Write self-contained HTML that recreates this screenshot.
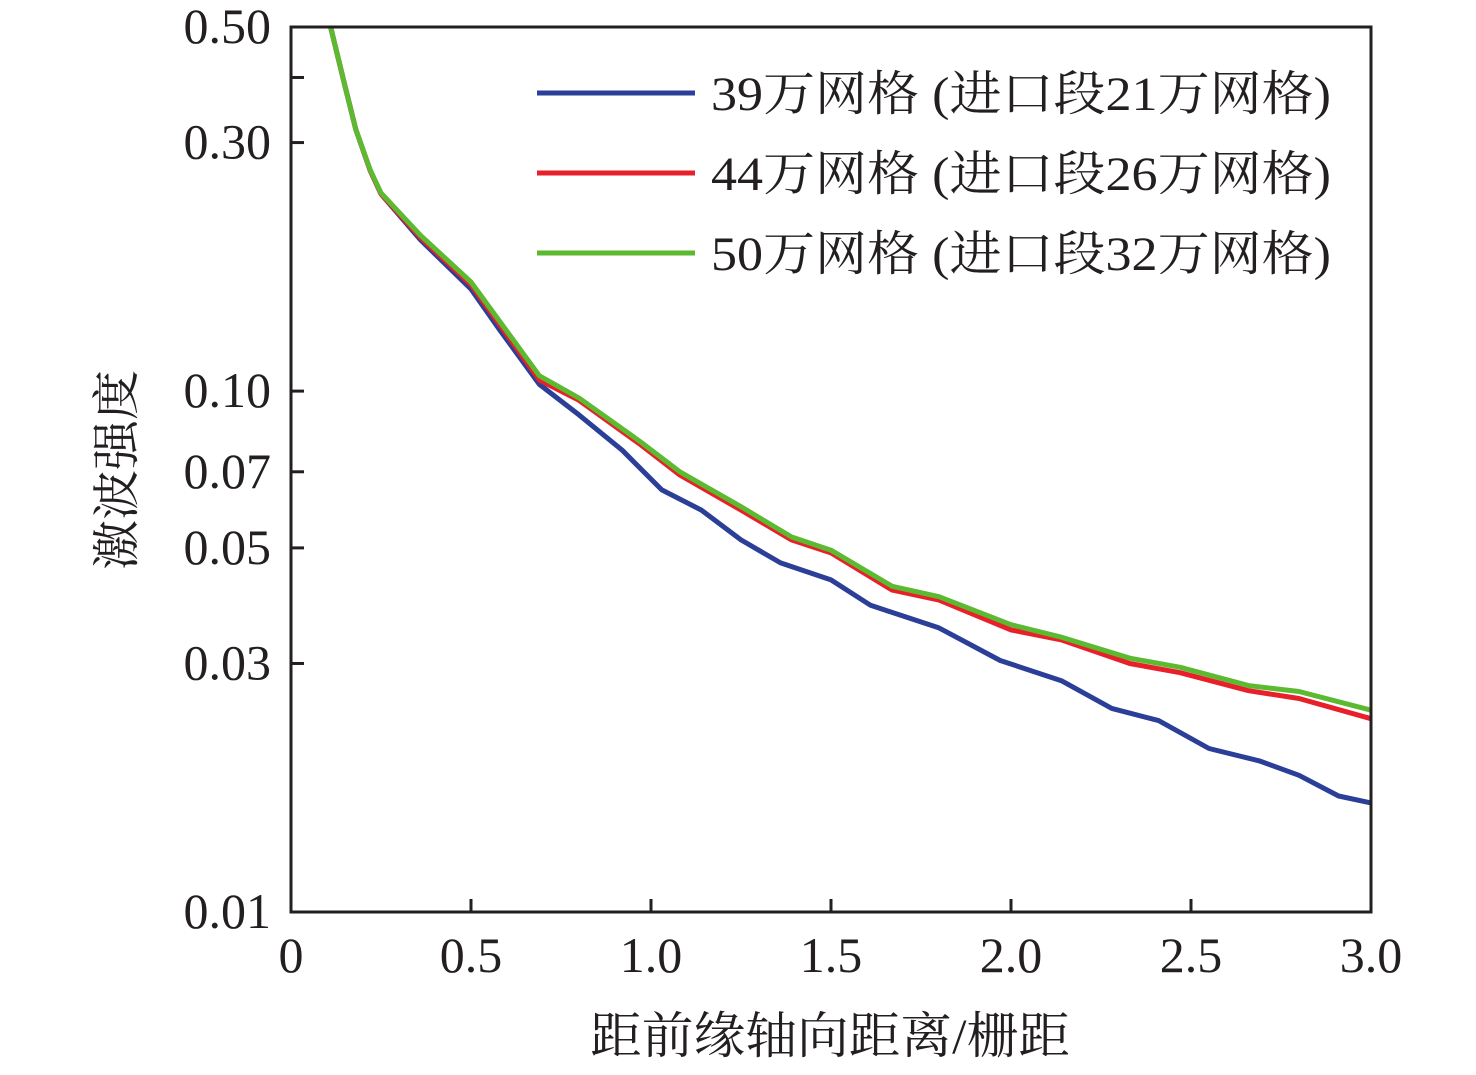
<!DOCTYPE html>
<html><head><meta charset="utf-8"><style>
html,body{margin:0;padding:0;background:#fff;}
svg text{font-family:"Liberation Serif","Noto Serif CJK SC",serif;fill:#231f20;}
</style></head><body>
<svg width="1476" height="1070" xmlns="http://www.w3.org/2000/svg">
<g id="plot"></g>
<text x="830" y="1053" font-size="50" text-anchor="middle" textLength="480" lengthAdjust="spacingAndGlyphs">距前缘轴向距离/栅距</text>
<text transform="translate(133,470) rotate(-90)" font-size="48" text-anchor="middle" textLength="200" lengthAdjust="spacingAndGlyphs">激波强度</text>
</svg>
<script>
const xs1=[0.11,0.15,0.18,0.22,0.25,0.36,0.5,0.58,0.69,0.80,0.92,1.03,1.14,1.25,1.36,1.50,1.61,1.80,1.97,2.14,2.28,2.41,2.55,2.69,2.80,2.91,3.0];
const blue=[0.5,0.385,0.318,0.265,0.239,0.195,0.157,0.131,0.103,0.090,0.077,0.0646,0.0591,0.0518,0.0468,0.0434,0.0388,0.0351,0.0304,0.0278,0.0246,0.0233,0.0206,0.0195,0.0183,0.0167,0.0162];
const xs2=[0.11,0.15,0.18,0.22,0.25,0.36,0.5,0.58,0.69,0.80,0.97,1.08,1.25,1.39,1.50,1.67,1.80,2.0,2.14,2.33,2.47,2.66,2.80,3.0];
const red=[0.5,0.385,0.318,0.265,0.239,0.197,0.160,0.134,0.105,0.096,0.079,0.069,0.0591,0.0518,0.0489,0.0415,0.0397,0.0348,0.0333,0.0300,0.0288,0.0266,0.0257,0.0235];
const green=[0.5,0.385,0.318,0.266,0.240,0.199,0.162,0.136,0.107,0.097,0.080,0.070,0.0600,0.0525,0.0495,0.0422,0.0403,0.0356,0.0337,0.0307,0.0295,0.0272,0.0265,0.0244];
const xTicks=[0,0.5,1.0,1.5,2.0,2.5,3.0];
const xTickLabels=["0","0.5","1.0","1.5","2.0","2.5","3.0"];
const yTicks=[0.5,0.3,0.1,0.07,0.05,0.03,0.01];
const yTickLabels=["0.50","0.30","0.10","0.07","0.05","0.03","0.01"];
const yMinor=[0.4];
const legendLabels=["39万网格 (进口段21万网格)","44万网格 (进口段26万网格)","50万网格 (进口段32万网格)"];
const colors=["#2b3f98","#e8202a","#5cba31"];

const X0=291,X1=1371,Y0=912,Y1=27;
const sx=v=>X0+(v/3)*(X1-X0);
const sy=v=>Y0-(Math.log10(v)+2)/(Math.log10(0.5)+2)*(Y0-Y1);
const g=document.getElementById('plot');
const NS="http://www.w3.org/2000/svg";
function mk(t,a){const e=document.createElementNS(NS,t);for(const k in a)e.setAttribute(k,a[k]);g.appendChild(e);return e;}

function series(xs,ys,c,name){
 const d=xs.map((x,i)=>(i?'L':'M')+sx(x).toFixed(1)+','+sy(ys[i]).toFixed(1)).join(' ');
 const p=mk('path',{d:d,fill:'none',stroke:c,'stroke-width':5,'stroke-linejoin':'round'});
 
 
}
series(xs1,blue,colors[0],'series-39w');
series(xs2,red,colors[1],'series-44w');
series(xs2,green,colors[2],'series-50w');

const frame=mk('rect',{x:X0,y:Y1,width:X1-X0,height:Y0-Y1,fill:'none',stroke:'#231f20','stroke-width':3});



xTicks.forEach((v,i)=>{
 const t=mk('line',{x1:sx(v),x2:sx(v),y1:Y0,y2:Y0-13,stroke:'#231f20','stroke-width':3});
 
 
 const l=mk('text',{x:sx(v),y:972,'font-size':50,'text-anchor':'middle'});
 l.textContent=xTickLabels[i];
 
 
});
yTicks.forEach((v,i)=>{
 const t=mk('line',{x1:X0,x2:X0+13,y1:sy(v),y2:sy(v),stroke:'#231f20','stroke-width':3});
 
 
 const l=mk('text',{x:271,y:sy(v)+16,'font-size':50,'text-anchor':'end'});
 l.textContent=yTickLabels[i];
 
 
});
yMinor.forEach(v=>{
 const t=mk('line',{x1:X0,x2:X0+13,y1:sy(v),y2:sy(v),stroke:'#231f20','stroke-width':3});
 
 
});
legendLabels.forEach((s,i)=>{
 const y=93+i*80;
 const l=mk('line',{x1:537,x2:695,y1:y,y2:y,stroke:colors[i],'stroke-width':5});
 
 
 const t=mk('text',{x:711,y:y+17,'font-size':48,textLength:620,lengthAdjust:'spacingAndGlyphs'});
 t.textContent=s;
 
 
});
</script>
</body></html>
